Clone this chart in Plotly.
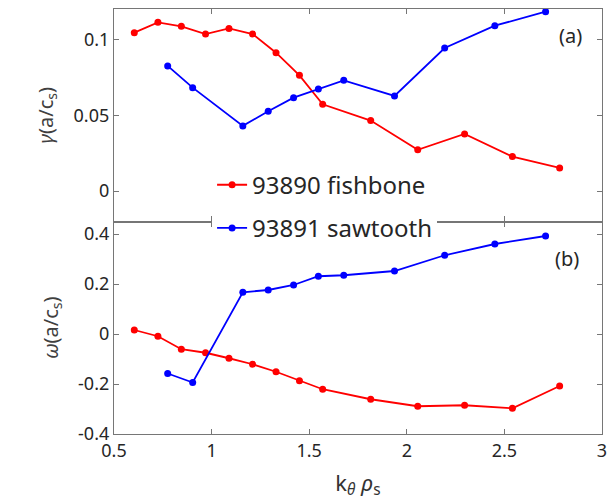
import plotly.graph_objects as go
from plotly.subplots import make_subplots

# Linear growth rate and real frequency versus poloidal wavenumber
k_fishbone = [0.604, 0.725, 0.845, 0.969, 1.089, 1.210, 1.330, 1.450, 1.569,
              1.815, 2.056, 2.296, 2.541, 2.783]
gamma_fishbone = [0.1044, 0.1112, 0.1086, 0.1035, 0.1072, 0.1035, 0.0912, 0.0763,
                  0.0572, 0.0465, 0.0272, 0.0377, 0.0228, 0.0153]
omega_fishbone = [0.016, -0.009, -0.061, -0.075, -0.097, -0.121, -0.151, -0.187,
                  -0.221, -0.261, -0.289, -0.285, -0.297, -0.208]

k_sawtooth = [0.775, 0.903, 1.160, 1.290, 1.420, 1.547, 1.677, 1.937, 2.194,
              2.451, 2.711]
gamma_sawtooth = [0.0825, 0.0682, 0.0430, 0.0526, 0.0616, 0.0673, 0.0730, 0.0627,
                  0.0943, 0.1090, 0.1182]
omega_sawtooth = [-0.158, -0.194, 0.167, 0.176, 0.196, 0.231, 0.235, 0.252,
                  0.315, 0.360, 0.392]

x_ticks = [0.5, 1, 1.5, 2, 2.5, 3]
x_tick_text = ["0.5", "1", "1.5", "2", "2.5", "3"]
gamma_ticks = [0, 0.05, 0.1]
gamma_tick_text = ["0", "0.05", "0.1"]
omega_ticks = [-0.4, -0.2, 0, 0.2, 0.4]
omega_tick_text = ["-0.4", "-0.2", "0", "0.2", "0.4"]

RED = "#ff0000"
BLUE = "#0000ff"
AXIS = "#767676"
FONT = "Noto Sans"

fig = make_subplots(rows=2, cols=1, shared_xaxes=False, vertical_spacing=0)

line_w = 1.8
msize = 7

fig.add_trace(go.Scatter(x=k_fishbone, y=gamma_fishbone, mode="lines+markers",
                         name="93890 fishbone", legendgroup="f",
                         line=dict(color=RED, width=line_w),
                         marker=dict(color=RED, size=msize)), row=1, col=1)
fig.add_trace(go.Scatter(x=k_sawtooth, y=gamma_sawtooth, mode="lines+markers",
                         name="93891 sawtooth", legendgroup="s",
                         line=dict(color=BLUE, width=line_w),
                         marker=dict(color=BLUE, size=msize)), row=1, col=1)
fig.add_trace(go.Scatter(x=k_fishbone, y=omega_fishbone, mode="lines+markers",
                         name="93890 fishbone", legendgroup="f", showlegend=False,
                         line=dict(color=RED, width=line_w),
                         marker=dict(color=RED, size=msize)), row=2, col=1)
fig.add_trace(go.Scatter(x=k_sawtooth, y=omega_sawtooth, mode="lines+markers",
                         name="93891 sawtooth", legendgroup="s", showlegend=False,
                         line=dict(color=BLUE, width=line_w),
                         marker=dict(color=BLUE, size=msize)), row=2, col=1)

axis_common = dict(showline=True, linecolor=AXIS, linewidth=1.2, mirror="ticks",
                   ticks="inside", ticklen=5, tickwidth=1, tickcolor=AXIS,
                   showgrid=False, zeroline=False,
                   tickfont=dict(family=FONT, size=18, color="#262626"))

fig.update_xaxes(range=[0.5, 3], tickvals=x_ticks, ticktext=x_tick_text, **axis_common)
fig.update_xaxes(showticklabels=False, row=1, col=1)
fig.update_xaxes(title=dict(text="k<sub><i>θ</i></sub> <i>ρ</i><sub>s</sub>",
                            font=dict(family=FONT, size=22, color="#333333"),
                            standoff=14), row=2, col=1)

fig.update_yaxes(range=[-0.02, 0.12], tickvals=gamma_ticks, ticktext=gamma_tick_text,
                 title=dict(text="<i>γ</i>(a/c<sub>s</sub>)",
                            font=dict(family=FONT, size=20, color="#404040"),
                            standoff=14),
                 row=1, col=1, **axis_common)
fig.update_yaxes(range=[-0.4, 0.45], tickvals=omega_ticks, ticktext=omega_tick_text,
                 title=dict(text="<i>ω</i>(a/c<sub>s</sub>)",
                            font=dict(family=FONT, size=20, color="#404040"),
                            standoff=14),
                 row=2, col=1, **axis_common)

fig.add_annotation(text="(a)", xref="x domain", yref="y domain", x=0.935, y=0.876,
                   xanchor="center", yanchor="middle",
                   showarrow=False, font=dict(family=FONT, size=20, color="#262626"))
fig.add_annotation(text="(b)", xref="x2 domain", yref="y2 domain", x=0.929, y=0.824,
                   xanchor="center", yanchor="middle",
                   showarrow=False, font=dict(family=FONT, size=20, color="#262626"))

fig.update_layout(
    width=615, height=503,
    margin=dict(l=114, r=9, t=8, b=69),
    paper_bgcolor="white", plot_bgcolor="white",
    font=dict(family=FONT),
    legend=dict(x=0.201, xanchor="left", y=0.535, yanchor="middle",
                bgcolor="white", borderwidth=0,
                font=dict(family=FONT, size=24, color="#262626"),
                tracegroupgap=9, itemwidth=30),
)

fig.write_html("out.html")
